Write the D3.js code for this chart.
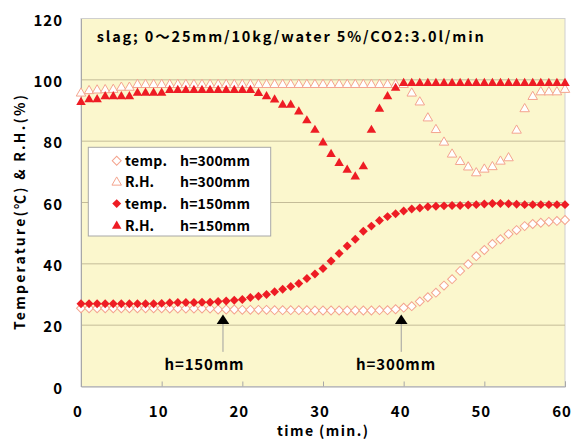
<!DOCTYPE html>
<html>
<head>
<meta charset="utf-8">
<script src="https://cdn.jsdelivr.net/npm/d3@7"></script>
<style>
  body { margin: 0; background: #fff; }
  svg text { font-family: "Noto Sans CJK JP", "Liberation Sans", sans-serif; font-weight: bold; fill: #000; }
</style>
</head>
<body>
<svg id="chart" width="572" height="439"></svg>
<script>
// 経過時間 (min.)
const time = [
   0,  1,  2,  3,  4,  5,  6,  7,  8,  9, 10, 11, 12, 13, 14, 15, 16, 17, 18, 19,
  20, 21, 22, 23, 24, 25, 26, 27, 28, 29, 30, 31, 32, 33, 34, 35, 36, 37, 38, 39,
  40, 41, 42, 43, 44, 45, 46, 47, 48, 49, 50, 51, 52, 53, 54, 55, 56, 57, 58, 59, 60
];

// temp. h=300mm (℃)
const temp300 = [
  25.5, 25.5, 25.5, 25.5, 25.5, 25.5, 25.5, 25.5, 25.5, 25.5, 25.5, 25.4, 25.4, 25.4, 25.4, 25.4, 25.4, 25.1, 25.1, 25.1,
  25.0, 25.0, 25.0, 25.0, 24.9, 24.9, 24.9, 24.9, 24.9, 24.8, 24.8, 24.8, 24.8, 24.8, 24.8, 24.8, 24.8, 24.9, 24.9, 25.2,
  25.7, 26.2, 27.7, 29.1, 30.6, 32.9, 35.0, 37.7, 39.9, 42.5, 44.5, 46.5, 48.0, 49.7, 51.0, 52.3, 53.0, 53.4, 53.7, 54.0, 54.3
];

// R.H. h=300mm (%)
const rh300 = [
  95.6, 96.4, 96.6, 96.7, 96.8, 97.5, 97.5, 98.4, 98.4, 98.4, 98.4, 98.4, 98.4, 98.4, 98.4, 98.4, 98.4, 98.4, 98.4, 98.4,
  98.4, 98.4, 98.4, 98.4, 98.4, 98.4, 98.4, 98.4, 98.4, 98.4, 98.4, 98.4, 98.4, 98.4, 98.4, 98.4, 98.4, 98.4, 98.4, 98.4,
  98.4, 95.6, 92.7, 87.5, 83.7, 79.6, 75.7, 73.3, 71.5, 69.6, 70.8, 71.6, 73.4, 74.5, 83.5, 90.5, 94.5, 96.0, 96.0, 96.0, 96.8
];

// temp. h=150mm (℃)
const temp150 = [
  27.0, 27.0, 27.0, 27.0, 27.0, 27.0, 27.0, 27.0, 27.0, 27.0, 27.1, 27.3, 27.4, 27.4, 27.4, 27.5, 27.5, 27.7, 27.9, 28.1,
  28.4, 29.0, 29.4, 30.0, 30.9, 31.7, 32.6, 33.6, 35.2, 36.7, 38.5, 40.9, 43.4, 45.8, 48.0, 50.6, 52.3, 54.1, 55.4, 56.3,
  57.2, 57.9, 58.2, 58.6, 58.8, 58.9, 59.0, 59.0, 59.2, 59.3, 59.5, 59.7, 59.7, 59.6, 59.4, 59.3, 59.3, 59.3, 59.3, 59.3, 59.3
];

// R.H. h=150mm (%)
const rh150 = [
  92.7, 93.6, 93.6, 94.6, 94.6, 94.6, 94.6, 95.7, 95.7, 95.7, 95.7, 96.6, 96.6, 96.6, 96.6, 96.6, 96.6, 96.6, 96.6, 96.6,
  96.6, 96.6, 95.6, 94.6, 93.5, 91.8, 91.8, 89.6, 86.7, 83.6, 79.5, 75.7, 72.8, 70.6, 68.4, 71.7, 83.6, 90.5, 94.6, 97.3,
  98.9, 98.9, 98.9, 98.9, 98.9, 98.9, 98.9, 98.9, 98.9, 98.9, 98.9, 98.9, 98.9, 98.9, 98.9, 98.9, 98.9, 98.9, 98.9, 98.9, 98.9
];

const xTicks = [0, 10, 20, 30, 40, 50, 60];
const yTicks = [0, 20, 40, 60, 80, 100, 120];

const titleText = "slag; 0～25mm/10kg/water 5%/CO2:3.0l/min";
const legendNames = ["temp.", "R.H.", "temp.", "R.H."];
const legendHeights = ["h=300mm", "h=300mm", "h=150mm", "h=150mm"];

// 矢印の注記（開始時刻）
const arrowTimes = [17.6, 39.7];
const arrowLabels = ["h=150mm", "h=300mm"];
const arrowLabelTimes = [15.25, 39.0];

// ---- 描画設定 ----
const RED = "#ee1c24";
const PINK = "#f4a48e";
const M = { left: 81, right: 565, top: 18.5, bottom: 386.5 };

const svg = d3.select("#chart");

const x = d3.scaleLinear().domain([0, 60]).range([M.left, M.right]);
const y = d3.scaleLinear().domain([0, 120]).range([M.bottom, M.top]);

// 背景
svg.append("rect")
  .attr("x", M.left).attr("y", M.top)
  .attr("width", M.right - M.left).attr("height", M.bottom - M.top)
  .attr("fill", "#fbf7cd")
  .attr("stroke", "#cfcfcf").attr("stroke-width", 1);

// 横グリッド
svg.append("g").selectAll("line")
  .data(yTicks.filter(d => d > 0 && d < 120))
  .join("line")
  .attr("x1", M.left).attr("x2", M.right)
  .attr("y1", d => y(d)).attr("y2", d => y(d))
  .attr("stroke", "#c4bc98").attr("stroke-width", 1);

// 軸
const xAxis = svg.append("g")
  .attr("transform", `translate(0,${M.bottom})`)
  .call(d3.axisBottom(x).tickValues(xTicks).tickSize(-5).tickPadding(20).tickFormat(d3.format("d")));
const yAxis = svg.append("g")
  .attr("transform", `translate(${M.left},0)`)
  .call(d3.axisLeft(y).tickValues(yTicks).tickSize(0).tickPadding(18).tickFormat(d3.format("d")));

[xAxis, yAxis].forEach(a => {
  a.select(".domain").attr("stroke", "#a8a8a8");
  a.selectAll(".tick line").attr("stroke", "#a8a8a8");
  a.selectAll("text").style("font-size", "15px").attr("letter-spacing", "1px").attr("fill", "#000");
});
yAxis.selectAll("text").attr("dy", "0.45em");
xAxis.selectAll("text").attr("dx", "-3.5");

// 系列
const series = [
  { values: temp300, shape: d3.symbolSquare, size: 40, rot: 45, fill: "#fff", stroke: PINK },
  { values: rh300, shape: d3.symbolTriangle, size: 39, rot: 0, fill: "#fff", stroke: PINK },
  { values: temp150, shape: d3.symbolSquare, size: 40, rot: 45, fill: RED, stroke: "none" },
  { values: rh150, shape: d3.symbolTriangle, size: 39, rot: 0, fill: RED, stroke: "none" }
];

series.forEach(s => {
  svg.append("g").selectAll("path")
    .data(time.map((t, i) => [t, s.values[i]]))
    .join("path")
    .attr("d", d3.symbol().type(s.shape).size(s.size))
    .attr("transform", d => `translate(${x(d[0])},${y(d[1])}) rotate(${s.rot})`)
    .attr("fill", s.fill)
    .attr("stroke", s.stroke)
    .attr("stroke-width", 1);
});

// 矢印
arrowTimes.forEach((t, i) => {
  svg.append("line")
    .attr("x1", x(t)).attr("x2", x(t))
    .attr("y1", y(20.4)).attr("y2", y(11.3))
    .attr("stroke", "#a0a0a0").attr("stroke-width", 1);
  svg.append("path")
    .attr("d", `M${x(t)},${y(23.5)} L${x(t) + 6.3},${y(20.4)} L${x(t) - 6.3},${y(20.4)} Z`)
    .attr("fill", "#000");
  svg.append("text")
    .attr("x", x(arrowLabelTimes[i])).attr("y", y(5.4))
    .attr("text-anchor", "middle")
    .style("font-size", "15px")
    .attr("textLength", 79).attr("lengthAdjust", "spacing")
    .text(arrowLabels[i]);
});

// タイトル
svg.append("text")
  .attr("x", 96.7).attr("y", 41.7)
  .style("font-size", "14.5px")
  .attr("textLength", 387).attr("lengthAdjust", "spacing")
  .text(titleText);

// 凡例
const lg = svg.append("g");
lg.append("rect")
  .attr("x", 88.3).attr("y", 147.3).attr("width", 182.4).attr("height", 88.7)
  .attr("fill", "#fff").attr("stroke", "#a8a8a8");
const rowY = [160.7, 182.4, 203.6, 226];
series.forEach((s, i) => {
  lg.append("path")
    .attr("d", d3.symbol().type(s.shape).size(s.size)())
    .attr("transform", `translate(116.7,${rowY[i]}) rotate(${s.rot})`)
    .attr("fill", s.fill).attr("stroke", s.stroke).attr("stroke-width", 1);
  lg.append("text")
    .attr("x", 125).attr("y", rowY[i] + 5)
    .style("font-size", "14px")
    .attr("textLength", legendNames[i] === "temp." ? 42 : 29).attr("lengthAdjust", "spacing")
    .text(legendNames[i]);
  lg.append("text")
    .attr("x", 180).attr("y", rowY[i] + 5)
    .style("font-size", "14px")
    .attr("textLength", 70).attr("lengthAdjust", "spacing")
    .text(legendHeights[i]);
});

// 軸タイトル
svg.append("text")
  .attr("x", 322.5).attr("y", 436)
  .attr("text-anchor", "middle")
  .style("font-size", "14px")
  .attr("textLength", 91).attr("lengthAdjust", "spacing")
  .text("time (min.)");

svg.append("text")
  .attr("transform", "translate(25,212.5) rotate(-90)")
  .attr("text-anchor", "middle")
  .style("font-size", "14px")
  .attr("textLength", 235).attr("lengthAdjust", "spacing")
  .text("Temperature(℃) & R.H.(%)");
</script>
</body>
</html>
